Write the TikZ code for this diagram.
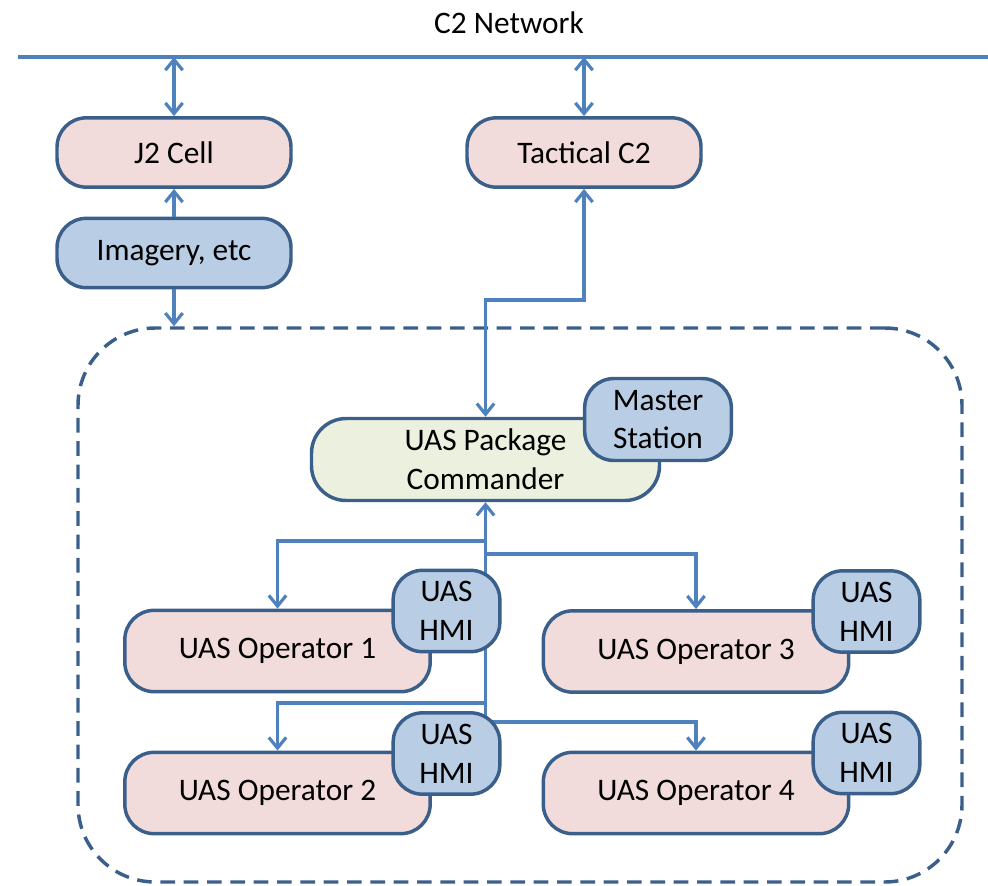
\documentclass[tikz,border=0pt]{standalone}
\usepackage{fontspec}
\setmainfont{Carlito}
\usetikzlibrary{
    arrows.meta
}
\definecolor{edge}{HTML}{3A5F8B}
\definecolor{wirecol}{HTML}{4F81BD}
\definecolor{pinkfill}{HTML}{F2DCDB}
\definecolor{bluefill}{HTML}{B9CDE5}
\definecolor{greenfill}{HTML}{EBF1DE}
\tikzset {
    box/.style = {
        draw = edge, line width = 2.6pt, rounded corners = 22pt,
        align = center, inner sep = 2pt,
        font = \fontsize{23.5}{29}\selectfont
    },
    cell/.style = {box, fill = pinkfill, minimum width = 175.5pt, minimum height = 52pt},
    source/.style = {box, fill = bluefill, minimum width = 175.5pt, minimum height = 52pt},
    commander/.style = {box, fill = greenfill, rounded corners = 26pt,
        minimum width = 261pt, minimum height = 61.5pt},
    master/.style = {box, fill = bluefill, minimum width = 110pt, minimum height = 61.5pt},
    operator/.style = {box, fill = pinkfill, minimum width = 229pt, minimum height = 61pt},
    hmi/.style = {box, fill = bluefill, minimum width = 80pt, minimum height = 61pt},
    zone/.style = {
        draw = edge, line width = 2.6pt, rounded corners = 58pt,
        dash pattern = on 11pt off 6.5pt,
        minimum width = 663pt, minimum height = 415.5pt
    },
    %
    wire/.style = {draw = wirecol, line width = 2.4pt},
    > = {Straight Barb[length = 8pt, width = 13pt]}
}

\begin{document}
\begin{tikzpicture}[x = 0.75pt, y = -0.75pt]
    \useasboundingbox (0, 0) rectangle (988, 885);

    \node (title) [font = \fontsize{23.5}{29}\selectfont] at (509, 23) {C2 Network};
    \coordinate (netL) at (18, 57);
    \coordinate (netR) at (988, 57);
    \draw [wire] (netL) -- (netR);

    \node (j2) [cell] at (174, 152.5) {J2 Cell};
    \node (img) [source] at (174, 253) {Imagery, etc};
    \node (tac) [cell] at (584, 152.5) {Tactical C2};

    \node (zone) [zone] at (520, 605) {};

    \node (cmd) [commander] at (485.5, 459.5) {UAS Package\\Commander};
    \node (ms) [master] at (658, 419.5) {Master\\Station};

    \node (op1) [operator] at (277.5, 651) {UAS Operator 1};
    \node (op2) [operator] at (277.5, 793) {UAS Operator 2};
    \node (op3) [operator] at (696, 651.5) {UAS Operator 3};
    \node (op4) [operator] at (696, 793) {UAS Operator 4};

    \draw [wire, <->] (j2.north |- netL) -- (j2.north);
    \draw [wire, <->] (tac.north |- netL) -- (tac.north);
    \draw [wire, ->] (img.north) -- (j2.south);
    \draw [wire, ->] (img.south) -- (img.south |- zone.north);
    \draw [wire, <->] (tac.south) -- ++(0, 111) -| (cmd.north);

    \coordinate (hub) at (485.5, 712);
    \coordinate (b1) at (485.5, 541);
    \coordinate (b3) at (485.5, 554);
    \coordinate (b2) at (485.5, 703);
    \coordinate (b4) at (485.5, 722);
    \draw [wire, ->] (hub) -- (cmd.south);
    \draw [wire, ->] (b1) -| (op1.north);
    \draw [wire, ->] (b3) -| (op3.north);
    \draw [wire, ->] (b2) -| (op2.north);
    \draw [wire, ->] (hub) -- (b4) -| (op4.north);

    \node (hmi1) [hmi] at (446.5, 611) {UAS\\HMI};
    \node (hmi2) [hmi] at (446.5, 753.5) {UAS\\HMI};
    \node (hmi3) [hmi] at (866.5, 611.5) {UAS\\HMI};
    \node (hmi4) [hmi] at (866.5, 753) {UAS\\HMI};
\end{tikzpicture}
\end{document}
